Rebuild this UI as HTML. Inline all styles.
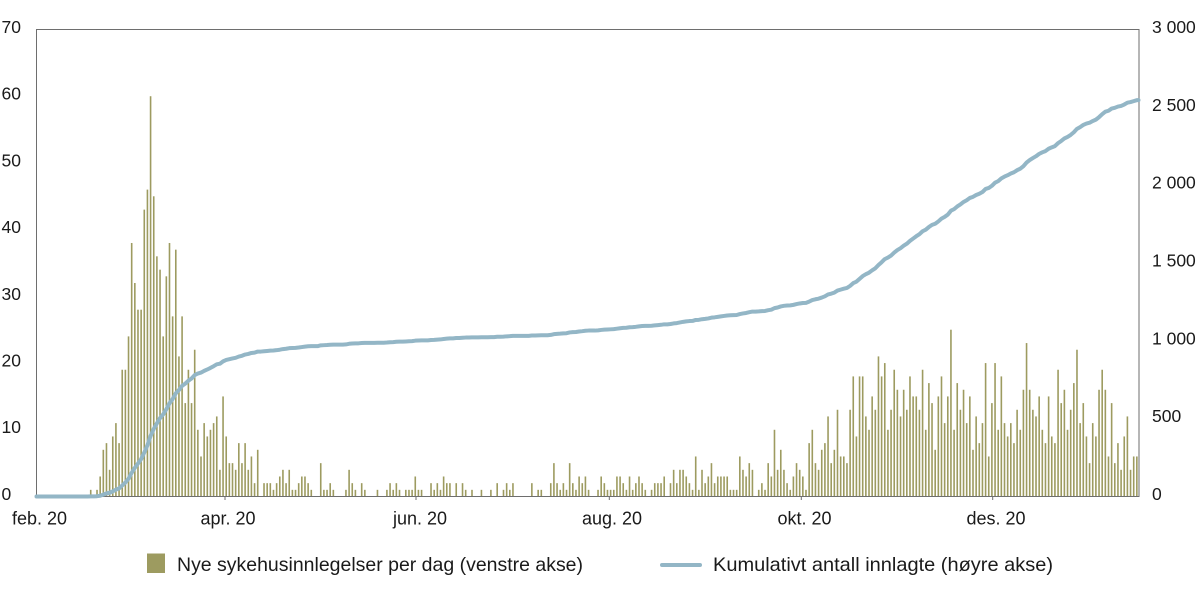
<!DOCTYPE html>
<html>
<head>
<meta charset="utf-8">
<style>
  html,body{margin:0;padding:0;background:#fff;}
  svg{display:block;}
  text{font-family:"Liberation Sans",sans-serif;fill:#1a1a1a;}
</style>
</head>
<body>
<svg id="chart" width="1200" height="593" viewBox="0 0 1200 593" xmlns="http://www.w3.org/2000/svg">
  <rect x="0" y="0" width="1200" height="593" fill="#fff"/>
  <g id="bars" fill="#9d9b60"></g>
  <rect x="36.5" y="29.5" width="1102.5" height="467" fill="none" stroke="#6e6e6e" stroke-width="1"/>
  <g stroke="#6e6e6e" stroke-width="1">
    <line x1="225" y1="496.5" x2="225" y2="500"/>
    <line x1="416" y1="496.5" x2="416" y2="500"/>
    <line x1="609.3" y1="496.5" x2="609.3" y2="500"/>
    <line x1="801.3" y1="496.5" x2="801.3" y2="500"/>
    <line x1="992.7" y1="496.5" x2="992.7" y2="500"/>
  </g>
  <polyline id="cum" fill="none" stroke="#93b6c6" stroke-width="4" stroke-linejoin="round" stroke-linecap="round" points=""/>

  <!-- left axis labels -->
  <g font-size="17.5">
    <text x="1.5" y="33">70</text>
    <text x="1.5" y="99.7">60</text>
    <text x="1.5" y="166.4">50</text>
    <text x="1.5" y="233.1">40</text>
    <text x="1.5" y="299.8">30</text>
    <text x="1.5" y="366.5">20</text>
    <text x="1.5" y="433.2">10</text>
    <text x="1.5" y="500">0</text>
  </g>
  <!-- right axis labels -->
  <g font-size="17.5">
    <text x="1152" y="33">3 000</text>
    <text x="1152" y="110.8">2 500</text>
    <text x="1152" y="188.7">2 000</text>
    <text x="1152" y="266.5">1 500</text>
    <text x="1152" y="344.3">1 000</text>
    <text x="1152" y="422.2">500</text>
    <text x="1152" y="500">0</text>
  </g>
  <!-- x labels -->
  <g font-size="18" text-anchor="middle">
    <text x="39.5" y="524.5">feb. 20</text>
    <text x="228" y="524.5">apr. 20</text>
    <text x="420" y="524.5">jun. 20</text>
    <text x="612" y="524.5">aug. 20</text>
    <text x="804.5" y="524.5">okt. 20</text>
    <text x="996" y="524.5">des. 20</text>
  </g>
  <!-- legend -->
  <rect x="147" y="553.5" width="18" height="19.5" fill="#9d9b60"/>
  <text x="177" y="571" font-size="19.5" textLength="406" lengthAdjust="spacingAndGlyphs">Nye sykehusinnlegelser per dag (venstre akse)</text>
  <line x1="662" y1="565" x2="700" y2="565" stroke="#93b6c6" stroke-width="4" stroke-linecap="round"/>
  <text x="713" y="571" font-size="19.5" textLength="340" lengthAdjust="spacingAndGlyphs">Kumulativt antall innlagte (høyre akse)</text>
</svg>
<script>
(function(){
  var d=[0,0,0,0,0,0,0,0,0,0,0,0,0,0,0,0,
  1,0,1,3,7,8,4,9,11,8,
  19,19,24,38,32,28,28,43,46,60,
  45,36,34,24,33,38,27,37,21,27,
  14,19,14,22,10,6,11,9,10,11,
  12,4,15,9,5,5,4,8,5,8,
  4,6,2,7,0,2,2,2,1,2,
  3,4,2,4,1,1,2,3,3,2,
  1,0,0,5,1,1,2,1,0,0,
  0,1,4,2,1,0,2,1,0,0,
  0,1,0,0,1,2,1,2,1,0,
  1,1,1,3,1,1,0,0,2,1,
  2,1,3,2,2,0,2,0,2,1,
  0,1,0,0,1,0,0,1,0,2,
  0,1,2,1,2,0,0,0,0,0,
  2,0,1,1,0,0,2,5,2,1,
  2,1,5,2,1,3,2,3,1,0,
  0,1,3,2,1,1,1,3,3,2,
  1,3,1,2,3,2,1,0,1,2,
  2,2,3,0,2,4,2,4,4,3,
  2,1,6,1,4,2,3,5,2,3,
  3,3,3,1,1,1,6,4,3,5,
  4,0,1,2,1,5,3,10,4,7,
  4,2,1,3,5,4,3,1,8,10,
  5,4,7,8,12,5,7,13,6,6,
  5,13,18,9,18,18,12,10,15,13,
  21,18,20,10,13,19,16,12,16,13,
  18,15,15,13,19,10,17,14,7,15,
  18,11,15,25,10,17,13,16,11,15,
  7,12,8,11,20,6,14,20,10,18,
  11,9,11,8,13,10,16,23,16,13,
  12,15,10,8,15,9,8,19,14,16,
  10,13,17,22,11,14,9,5,11,9,
  16,19,16,6,14,5,8,4,9,12,
  4,6,6];
  var NS="http://www.w3.org/2000/svg";
  var g=document.getElementById("bars");
  var base=496.5, vs=467/70, cs=467/3000;
  var cum=0, pts=["36.5,"+base];
  for(var i=0;i<d.length;i++){
    var x=40.3+3.151*i;
    var v=d[i];
    if(v>0){
      var r=document.createElementNS(NS,"rect");
      var h=v*vs;
      r.setAttribute("x",(x-0.8).toFixed(2));
      r.setAttribute("y",(base-h).toFixed(2));
      r.setAttribute("width","1.6");
      r.setAttribute("height",h.toFixed(2));
      g.appendChild(r);
    }
    cum+=v;
    pts.push(x.toFixed(2)+","+(base-cum*cs).toFixed(2));
  }
  pts.push("1138.5,"+(base-cum*cs).toFixed(2));
  document.getElementById("cum").setAttribute("points",pts.join(" "));
})();
</script>
</body>
</html>
